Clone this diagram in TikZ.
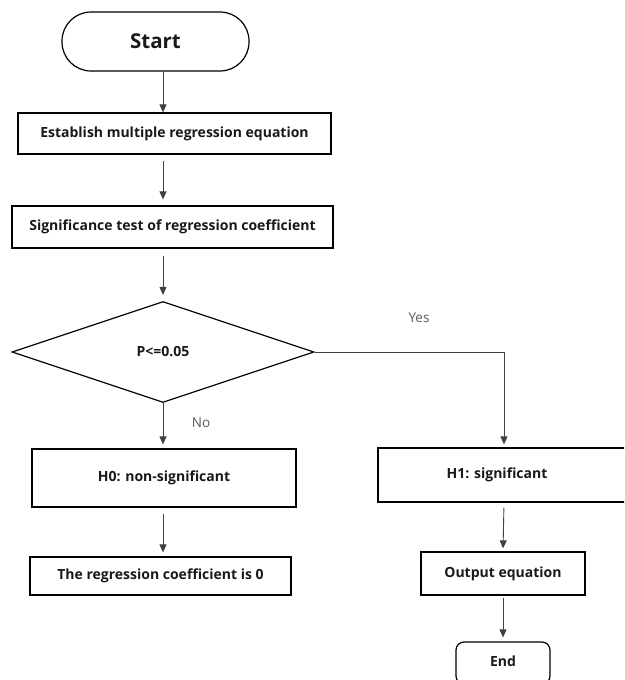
\documentclass[tikz,border=0pt]{standalone}
\usepackage{fontspec}
\setmainfont{Open Sans}
\usetikzlibrary{shapes.geometric,arrows.meta}
\begin{document}
\begin{tikzpicture}[x=1pt,y=-1pt,
  box/.style={draw=black,line width=1.2pt,rectangle,inner sep=0pt,font=\bfseries\fontsize{14}{16}\selectfont,text=black!90},
  txt/.style={font=\bfseries\fontsize{14}{16}\selectfont,text=black!90},
  conn/.style={draw=black!75,line width=0.9pt,-{Triangle[length=8pt,width=7pt]}},
  lab/.style={font=\fontsize{13.5}{16}\selectfont,text=black!65}]
\useasboundingbox (0,0) rectangle (624,680);
\begin{scope}
\clip (0,0) rectangle (624,680);
\node[box,rounded corners=29pt,minimum width=187pt,minimum height=59pt,font=\bfseries\fontsize{20.5}{24}\selectfont] (start) at (155.5,41.5) {Start};
\node[box,minimum width=313pt,minimum height=41pt] (b1) at (174.5,133.5) {Establish multiple regression equation};
\node[box,minimum width=321pt,minimum height=42pt] (b2) at (172.5,227) {Significance test of regression coefficient};
\node[box,shape=diamond,minimum width=302pt,minimum height=101pt] (dia) at (163,352) {};
\node[txt] (dl) at (163,352) {P<=0.05};
\node[box,minimum width=264pt,minimum height=58pt] (h0) at (164,478) {H0: non-significant};
\node[box,minimum width=261pt,minimum height=38pt] (coef) at (160.5,576) {The regression coefficient is 0};
\node[box,minimum width=252pt,minimum height=54pt] (h1) at (504,475) {};
\node[txt] (h1l) at (497,475) {H1: significant};
\node[box,minimum width=164pt,minimum height=43pt] (out) at (503,573.5) {Output equation};
\node[box,rounded corners=8pt,minimum width=94pt,minimum height=42pt] (end) at (503,663) {};
\node[txt] (endl) at (503,661) {End};
\node[lab] (yes) at (419,318) {Yes};
\node[lab] (no) at (201,423) {No};
\draw[conn] (start.south -| 163,0) -- (b1.north -| 163,0);
\draw[conn,shorten <=6pt,shorten >=6pt] (b1.south -| 163,0) -- (b2.north -| 163,0);
\draw[conn,shorten <=7pt,shorten >=6pt] (b2.south -| 163,0) -- (dia.north);
\draw[conn,shorten >=4pt] (dia.south) -- (h0.north -| 163,0);
\draw[conn,shorten <=6pt,shorten >=4pt] (h0.south -| 163,0) -- (coef.north -| 163,0);
\draw[conn,shorten >=3pt] (dia.east) -| (h1.north);
\draw[conn,shorten <=5pt,shorten >=3pt] (h1.south) -- (out.north);
\draw[conn,shorten <=2pt,shorten >=4pt] (out.south) -- (end.north);
\end{scope}
\end{tikzpicture}
\end{document}
